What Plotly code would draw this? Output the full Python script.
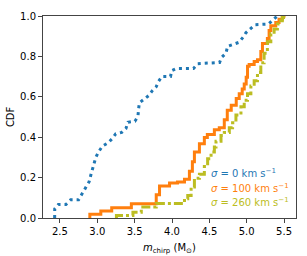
import plotly.graph_objects as go

# Blue: sigma = 0 km/s (dotted)
blue_x = [2.429, 2.43, 2.478, 2.58, 2.643, 2.749, 2.82, 2.869, 2.891, 2.917, 2.944, 2.957, 2.98,
          3.016, 3.069, 3.144, 3.203, 3.247, 3.327, 3.384, 3.411, 3.504, 3.544, 3.553, 3.563,
          3.633, 3.691, 3.736, 3.789, 3.82, 3.864, 3.98, 3.997, 4.056, 4.287, 4.344, 4.637,
          4.664, 4.723, 4.744, 4.811, 4.90, 4.953, 4.989, 5.043, 5.113, 5.29, 5.357, 5.41]
blue_y = [0.0, 0.045, 0.067, 0.067, 0.09, 0.09, 0.135, 0.162, 0.18, 0.218, 0.253, 0.275, 0.30,
          0.327, 0.356, 0.372, 0.394, 0.417, 0.424, 0.444, 0.474, 0.479, 0.503, 0.54, 0.57,
          0.59, 0.607, 0.63, 0.65, 0.676, 0.70, 0.70, 0.73, 0.74, 0.74, 0.764, 0.77,
          0.795, 0.816, 0.85, 0.86, 0.87, 0.896, 0.917, 0.935, 0.957, 0.96, 0.98, 1.0]

# Orange: sigma = 100 km/s (solid step)
orange_x = [2.9, 2.9, 3.047, 3.193, 3.456, 3.789, 3.833, 3.9, 3.967, 4.073, 4.167, 4.233,
            4.273, 4.3, 4.367, 4.433, 4.473, 4.567, 4.633, 4.7, 4.74, 4.793, 4.86, 4.9, 4.94,
            4.967, 4.993, 5.011, 5.033, 5.1, 5.144, 5.189, 5.211, 5.277, 5.3, 5.323, 5.389,
            5.433, 5.477, 5.52]
orange_y = [0.0, 0.019, 0.035, 0.051, 0.071, 0.115, 0.159, 0.159, 0.173, 0.178, 0.192, 0.231,
            0.279, 0.327, 0.367, 0.399, 0.413, 0.4375, 0.447, 0.486, 0.534, 0.558, 0.591, 0.615,
            0.639, 0.663, 0.697, 0.751, 0.76, 0.775, 0.784, 0.824, 0.864, 0.888, 0.928, 0.952,
            0.968, 0.984, 1.0, 1.0]

# Olive: sigma = 260 km/s (dash-dot step)
olive_x = [3.256, 3.256, 3.477, 3.589, 3.789, 4.123, 4.167, 4.211, 4.256, 4.3, 4.367, 4.433,
           4.477, 4.523, 4.567, 4.589, 4.656, 4.7, 4.767, 4.811, 4.856, 4.923, 4.967, 5.011,
           5.056, 5.1, 5.144, 5.189, 5.233, 5.277, 5.323, 5.367, 5.411, 5.456, 5.477, 5.523]
olive_y = [0.0, 0.012, 0.029, 0.055, 0.072, 0.072, 0.095, 0.111, 0.154, 0.197, 0.216, 0.255,
           0.293, 0.327, 0.351, 0.38, 0.409, 0.423, 0.447, 0.471, 0.51, 0.551, 0.583, 0.615,
           0.654, 0.679, 0.72, 0.768, 0.816, 0.872, 0.912, 0.936, 0.96, 0.976, 0.992, 1.0]

x_ticks = [2.5, 3.0, 3.5, 4.0, 4.5, 5.0, 5.5]
y_ticks = [0.0, 0.2, 0.4, 0.6, 0.8, 1.0]
labels = ["<i>σ</i> = 0 km s<sup>−1</sup>", "<i>σ</i> = 100 km s<sup>−1</sup>",
          "<i>σ</i> = 260 km s<sup>−1</sup>"]
colors = ["#1f77b4", "#ff7f0e", "#bcbd22"]

fig = go.Figure()
fig.add_trace(go.Scatter(x=blue_x, y=blue_y, mode="lines",
                         line=dict(color=colors[0], width=3, dash="3px,4px"),
                         showlegend=False))
fig.add_trace(go.Scatter(x=orange_x, y=orange_y, mode="lines", line_shape="hv",
                         line=dict(color=colors[1], width=3), showlegend=False))
fig.add_trace(go.Scatter(x=olive_x, y=olive_y, mode="lines", line_shape="hv",
                         line=dict(color=colors[2], width=3, dash="9px,3px,3px,3px"),
                         showlegend=False))

font = "DejaVu Sans"
axis_common = dict(showgrid=False, zeroline=False, showline=True, mirror=True,
                   linecolor="#444", linewidth=1, ticks="outside", ticklen=4,
                   tickcolor="#444", tickfont=dict(family=font, size=10, color="black"))
fig.update_layout(
    width=307, height=256,
    margin=dict(l=43, r=10, t=10, b=38),
    plot_bgcolor="white", paper_bgcolor="white",
    font=dict(family=font, size=10, color="black"),
    xaxis=dict(range=[2.273, 5.66], tickvals=x_ticks, tickformat=".1f", **axis_common),
    yaxis=dict(range=[0, 1], tickvals=y_ticks, tickformat=".1f", **axis_common),
)
fig.add_annotation(text="<i>m</i><sub>chirp</sub> (M<sub>⊙</sub>)", xref="paper", yref="paper",
                   x=0.5, y=-0.12, xanchor="center", yanchor="middle", yshift=-6, showarrow=False,
                   font=dict(family=font, size=10, color="black"))
fig.add_annotation(text="CDF", xref="paper", yref="paper", x=-0.13, y=0.5,
                   textangle=-90, xanchor="center", yanchor="middle", showarrow=False,
                   font=dict(family=font, size=10, color="black"))
for i, (lab, c) in enumerate(zip(labels, colors)):
    fig.add_annotation(text=lab, xref="x", yref="y", x=4.5, y=0.222 - i * 0.072,
                       xanchor="left", yanchor="middle", showarrow=False,
                       font=dict(family=font, size=10, color=c))
fig.write_html("out.html", config={"displayModeBar": False},
               post_script="document.body.style.margin='0';document.body.style.overflow='hidden';")
